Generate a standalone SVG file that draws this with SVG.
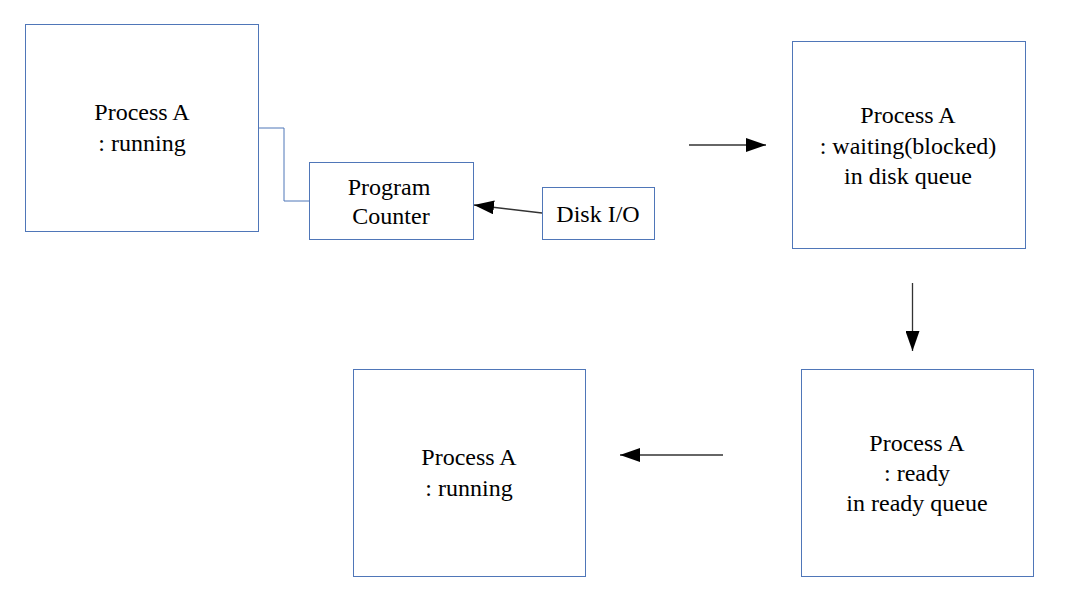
<svg xmlns="http://www.w3.org/2000/svg" width="1075" height="605" viewBox="0 0 1075 605">
<style>
.box{fill:#fff;stroke:#4f76b8;stroke-width:1}
.t{font-family:'Liberation Serif','Times New Roman',Times,'DejaVu Serif',serif;font-size:24px;fill:#000;text-anchor:middle}
.c{fill:none;stroke:#333;stroke-width:1.3}
.cb{fill:none;stroke:#4f76b8;stroke-width:1}
</style>
<defs>
<marker id="ah" viewBox="0 0 20 14" refX="20" refY="7" markerWidth="20" markerHeight="14" markerUnits="userSpaceOnUse" orient="auto">
<path d="M0,0 L20,7 L0,14 Z" fill="#000"/>
</marker>
</defs>
<rect width="1075" height="605" fill="#fff"/>
<g id="connectors">
<path class="cb" d="M258,128 H284 V201 H310"/>
<path class="c" d="M542,213 L474,205" marker-end="url(#ah)"/>
<path class="c" d="M689,145 H766" marker-end="url(#ah)"/>
<path class="c" d="M912.5,283 V351" marker-end="url(#ah)"/>
<path class="c" d="M723,455 H620" marker-end="url(#ah)"/>
</g>
<g id="procA1">
<rect class="box" x="25.5" y="24.5" width="233" height="207"/>
<text class="t" x="142" y="120" font-family="Liberation Serif, serif">Process A</text>
<text class="t" x="142" y="151" font-family="Liberation Serif, serif">: running</text>
</g>
<g id="pc">
<rect class="box" x="309.5" y="162.5" width="164" height="77"/>
<text class="t" x="389" y="195">Program</text>
<text class="t" x="391" y="224">Counter</text>
</g>
<g id="disk">
<rect class="box" x="542.5" y="187.5" width="112" height="52"/>
<text class="t" x="598" y="222">Disk I/O</text>
</g>
<g id="procA2">
<rect class="box" x="792.5" y="41.5" width="233" height="207"/>
<text class="t" x="908" y="123">Process A</text>
<text class="t" x="908" y="154">: waiting(blocked)</text>
<text class="t" x="908" y="184">in disk queue</text>
</g>
<g id="procA3">
<rect class="box" x="801.5" y="369.5" width="232" height="207"/>
<text class="t" x="917" y="451">Process A</text>
<text class="t" x="917" y="481">: ready</text>
<text class="t" x="917" y="511">in ready queue</text>
</g>
<g id="procA4">
<rect class="box" x="353.5" y="369.5" width="232" height="207"/>
<text class="t" x="469" y="465">Process A</text>
<text class="t" x="469" y="496">: running</text>
</g>
</svg>
